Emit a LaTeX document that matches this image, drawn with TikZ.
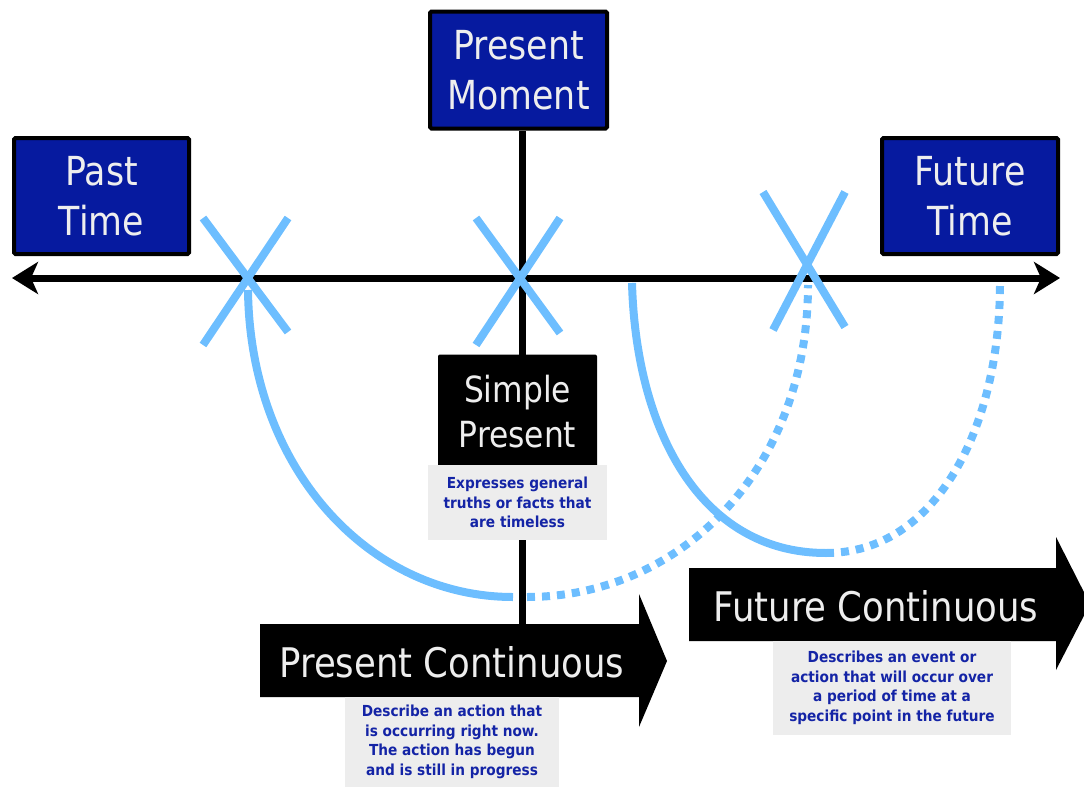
\documentclass[tikz,border=0pt]{standalone}
\usepackage{fontspec}
\usetikzlibrary{arrows.meta}
\newfontfamily\labfont[FakeStretch=0.87]{DejaVu Sans}
\newfontfamily\notefont[FakeStretch=0.9]{DejaVu Sans}
\definecolor{boxblue}{HTML}{061A9F}
\definecolor{labelwhite}{HTML}{EEEEEE}
\definecolor{markblue}{HTML}{6DBEFF}
\definecolor{notegray}{HTML}{EDEDED}
\definecolor{noteblue}{HTML}{1424A6}
\tikzset{axistip/.tip={Stealth[length=26pt,width=32pt,inset=7pt]}}
\begin{document}
\begin{tikzpicture}[x=1pt,y=-1pt,
  timebox/.style={draw=black, line width=4pt, fill=boxblue, rounded corners=1.5pt,
    text=labelwhite, align=center, inner sep=0pt,
    font=\labfont\fontsize{40}{50}\selectfont},
  tensebox/.style={fill=black, rounded corners=2pt, text=labelwhite, align=center,
    inner sep=0pt, font=\labfont\fontsize{36}{45}\selectfont},
  tenselabel/.style={text=labelwhite, inner sep=0pt, font=\labfont\fontsize{40.8}{48}\selectfont},
  note/.style={fill=notegray, text=noteblue, align=center, inner sep=0pt,
    font=\notefont\bfseries\fontsize{15.2}{19.5}\selectfont},
  axis/.style={line width=7pt, black},
  crossmark/.style={line width=8pt, markblue},
  span/.style={line width=8pt, markblue},
  spandot/.style={line width=8pt, markblue, dash pattern=on 8pt off 7pt}
]
\useasboundingbox (0,0) rectangle (1084,787);

% time axis and the "now" line
\coordinate (tl) at (12,278);
\coordinate (tr) at (1060,278);
\coordinate (nowtop) at (522,131);
\coordinate (nowbot) at (522,625);
\draw[axis, axistip-axistip] (tl) -- (tr);
\draw[axis] (nowtop) -- (nowbot);

% spans of the continuous tenses
\coordinate (s1a) at (248,290);
\coordinate (s1b) at (513,597);
\coordinate (s2a) at (527,597);
\coordinate (s2b) at (808,285);
\coordinate (s3a) at (632,283);
\coordinate (s3b) at (826,553);
\coordinate (s4a) at (826,553);
\coordinate (s4b) at (1000,283);
\draw[span] (s1a) .. controls (250,470) and (370,597) .. (s1b);
\draw[span] (s3a) .. controls (636,430) and (700,553) .. (s3b);
\draw[spandot] (s2a) .. controls (680,597) and (808,470) .. (s2b);
\draw[spandot] (s4a) .. controls (935,553) and (1000,430) .. (s4b);

% crosses on the axis
\draw[crossmark] (203,218) -- (288,332);
\draw[crossmark] (288,218) -- (203,345);
\draw[crossmark] (476,218) -- (560,333);
\draw[crossmark] (560,218) -- (476,345);
\draw[crossmark] (763,192) -- (845,327);
\draw[crossmark] (845,192) -- (773,330);

% time labels
\node[timebox, minimum width=175pt, minimum height=116pt] (past) at (101.5,196) {Past\\Time};
\node[timebox, minimum width=177pt, minimum height=117pt] (now) at (518.5,70) {Present\\Moment};
\node[timebox, minimum width=176pt, minimum height=116pt] (future) at (970,196) {Future\\Time};

% simple present
\node[tensebox, minimum width=159pt, minimum height=115pt] (simple) at (517.5,412) {Simple\\Present};
\node[note, minimum width=179pt, minimum height=75pt] (simplenote) at (517.5,502.5)
  {Expresses general\\truths or facts that\\are timeless};

% present continuous
\fill[black] (260,624) -- (639,624) -- (639,594) -- (667,661) -- (639,727) -- (639,697) -- (260,697) -- cycle;
\node[tenselabel] (prescont) at (452,662) {Present Continuous};
\node[note, minimum width=214pt, minimum height=90pt] (prescontnote) at (452,742)
  {Describe an action that\\is occurring right now.\\The action has begun\\and is still in progress};

% future continuous
\fill[black] (689,568) -- (1056,568) -- (1056,537) -- (1090,604) -- (1056,670) -- (1056,641) -- (689,641) -- cycle;
\node[tenselabel] (futcont) at (876,606) {Future Continuous};
\node[note, minimum width=238pt, minimum height=94pt] (futcontnote) at (892,688)
  {Describes an event or\\action that will occur over\\a period of time at a\\specific point in the future};
\end{tikzpicture}
\end{document}
